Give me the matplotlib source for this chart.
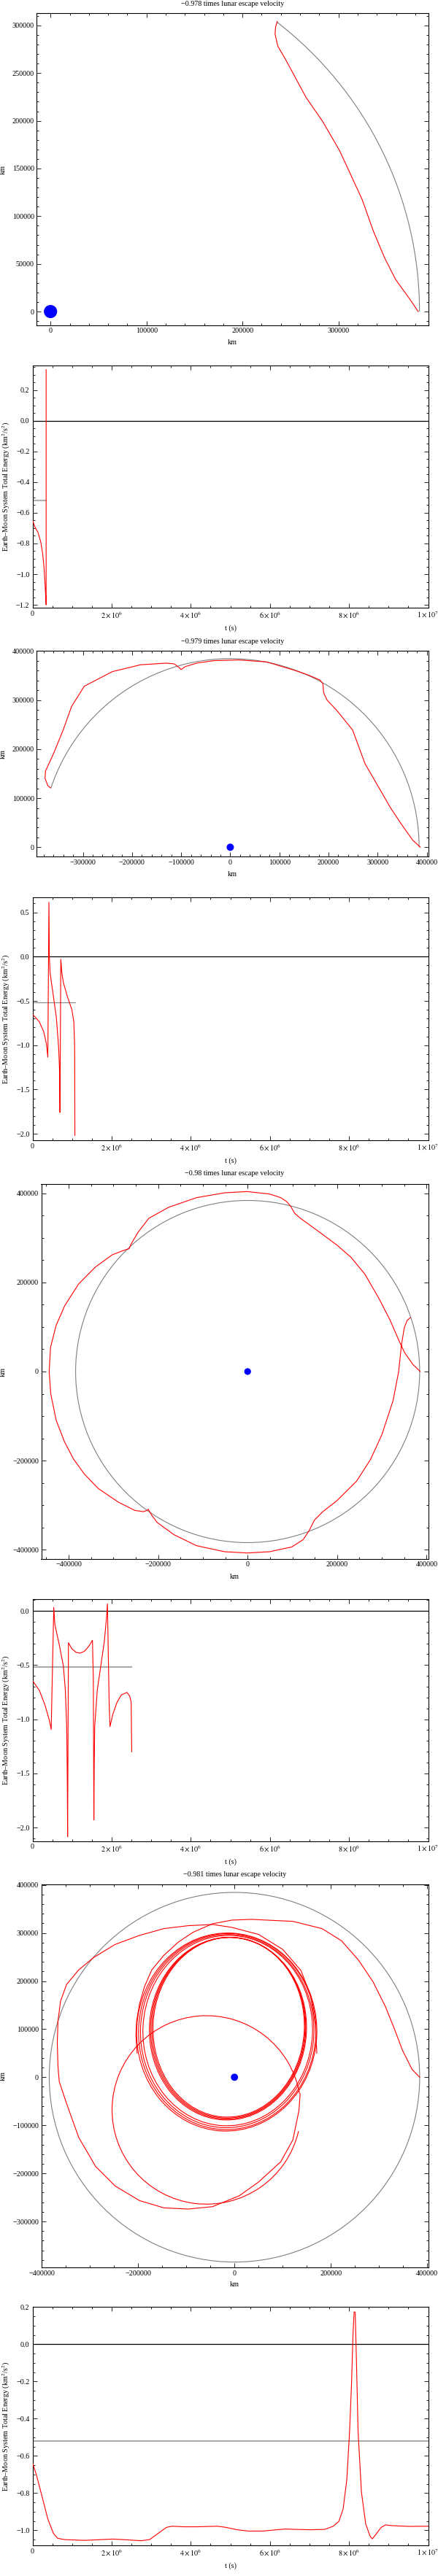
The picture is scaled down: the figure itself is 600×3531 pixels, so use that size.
import numpy as np
import matplotlib
matplotlib.use('Agg')
import matplotlib.pyplot as plt
from matplotlib.ticker import MultipleLocator, FuncFormatter
from matplotlib.patches import Arc, Ellipse

plt.rcParams['font.family'] = ['Liberation Serif', 'DejaVu Serif']
plt.rcParams['mathtext.fontset'] = 'stix'

# ---------------- data ----------------
titles = ["\u22120.978 times lunar escape velocity",
          "\u22120.979 times lunar escape velocity",
          "\u22120.98 times lunar escape velocity",
          "\u22120.981 times lunar escape velocity"]

moon_radius = 384400
earth_radius = 6371
moon_arc_end_deg = [52.2, 161.7, 360.0, 360.0]
energy_ref = -0.52

# orbit 1 (km)
o1_x = [383000, 374300, 359600, 348000, 336300, 324600, 312900, 301200, 283600,
        266100, 245600, 236800, 233900, 234500, 236300]
o1_y = [0, 13000, 33400, 56400, 84400, 117600, 143100, 168600, 199200,
        224700, 263000, 278300, 291100, 298700, 304300]

# orbit 2
o2_x = [386900, 371400, 348600, 325700, 302900, 274300, 249000, 217000, 197000,
        190000, 188600, 182900, 160000, 131400, 74300, 17100, -34300, -68600,
        -92000, -100000, -102900, -114300, -131400, -182900, -240000, -297100,
        -322900, -340000, -360000, -376000, -377100, -371400, -365700]
o2_y = [0, 14400, 46500, 81200, 120800, 170300, 239000, 278700, 300000,
        315000, 333200, 340600, 350500, 360400, 377700, 381700, 380200, 375200,
        368000, 361900, 365300, 373800, 375200, 371800, 357900, 328200,
        287100, 239300, 190100, 155400, 140600, 125700, 120800]

# orbit 3
o3_x = [385800, 368900, 350100, 337500, 318700, 293600, 262200, 230900, 199500,
        155600, 118000, 105400, 96000, 86600, 74000, 48900, -1300, -51400,
        -114200, -176900, -220800, -245900, -261600, -264700, -277300, -302400,
        -340000, -377700, -409000, -427900, -440400, -443500, -440000, -427900,
        -409000, -389000, -365100, -333800, -289800, -252200, -233400, -224000,
        -222100, -215000, -202000, -164400, -114200, -51400, -1300, 48900,
        99100, 124200, 136800, 149300, 168100, 199500, 243400, 274800, 299900,
        324970, 337500, 343800, 350100, 356400, 363900]
o3_y = [0, 16400, 43700, 71000, 114800, 163900, 218600, 256800, 284200,
        316900, 344300, 355200, 371600, 382500, 390700, 398900, 404400, 401600,
        390700, 368900, 344300, 311500, 284200, 276000, 272100, 262300,
        235000, 196700, 147500, 103800, 54600, 0, -50000, -109300,
        -158500, -196700, -230100, -262800, -292900, -312000, -314800, -312000,
        -309300, -322000, -339300, -366700, -391300, -404900, -407700, -404900,
        -394000, -377600, -358500, -333900, -314800, -290200, -246400, -197300, -142100,
        -65600, 0, 60100, 98400, 114800, 121300]

# orbit 4: departure arc into the loop bundle
o4a_x = [384400, 368700, 348500, 333300, 313100, 287900, 257600, 222200, 181800,
         121200, 35400, -5100, -45500, -85900, -116200, -146500, -171700,
         -186900, -197000, -203000, -204500, -202000]
o4a_y = [0, 16200, 56600, 97000, 147500, 198000, 243400, 283800, 309100,
         324200, 328300, 326800, 319200, 301500, 281300, 253500, 223200,
         187900, 152500, 117200, 86900, 50000]
# orbit 4: repeated loops (read as ellipses)
bundle_cx = [-16000, -15000, -15000, -14000, -13500, -13000, -12500, -12000]
bundle_cy = [94000, 95000, 96000, 97000, 101000, 102000, 103000, 104000]
bundle_rx = [187000, 184000, 180000, 176000, 163000, 161000, 159000, 157000]
bundle_ry = [206000, 204000, 201000, 198000, 190000, 189000, 188000, 187000]
bundle_tilt = [-3, -3, -3, -3, -3, -3, -3, -3]
# orbit 4: the wide loop after the lunar fly-by
o4b_x = [171000, 168000, 158000, 138000, 100000, 50000, -5100, -45500, -96000,
         -146500, -197000, -247500, -293000, -323200, -348500, -361100, -366200,
         -367700, -366200, -363600, -348500, -323200, -287900, -247500, -197000,
         -146500, -96000, -45500, 10100, 50000, 96000, 121200, 133800, 136400]
o4b_y = [50000, 110000, 170000, 222000, 266000, 297000, 311600, 317700, 315200,
         309100, 295000, 276300, 248500, 223200, 192900, 157600, 117200,
         71700, 21200, -9100, -54500, -125300, -185900, -226300, -256600,
         -271700, -274200, -269200, -246500, -218000, -176000, -130300, -69700, -34300]
# orbit 4: last, nearly circular loop (read as a circular arc)
last_loop_cx = -58000
last_loop_cy = -68000
last_loop_r = 196000
last_loop_theta = (10, 347)

# energies: time in units of 1e6 s, energy in km^2/s^2
e1_t = [0.0, 0.064, 0.136, 0.207, 0.257, 0.293, 0.314, 0.336, 0.343, 0.343]
e1_E = [-0.648, -0.695, -0.727, -0.79, -0.87, -0.965, -1.06, -1.156, -1.20, 0.333]

e2_t = [0.0, 0.08, 0.17, 0.28, 0.35, 0.386, 0.414, 0.425, 0.443, 0.53, 0.60,
        0.657, 0.680, 0.693, 0.714, 0.74, 0.779, 0.886, 0.993, 1.043, 1.064, 1.070]
e2_E = [-0.652, -0.69, -0.735, -0.845, -0.983, -1.135, 0.613, 0.0, -0.182, -0.459,
        -0.68, -1.01, -1.25, -1.76, -0.03, -0.18, -0.293, -0.459, -0.597, -0.735,
        -1.01, -2.02]

e3_t = [0.0, 0.171, 0.314, 0.421, 0.471, 0.536, 0.564, 0.671, 0.779, 0.829,
        0.864, 0.879, 0.886, 0.907, 0.993, 1.1, 1.207, 1.314, 1.421, 1.514,
        1.536, 1.550, 1.560, 1.571, 1.636, 1.743, 1.814, 1.871, 1.893, 1.914,
        1.936, 1.957, 2.029, 2.136, 2.243, 2.386, 2.457, 2.493, 2.507]
e3_E = [-0.644, -0.734, -0.869, -1.005, -1.095, 0.032, -0.126, -0.306, -0.509,
        -0.734, -1.072, -1.6, -2.085, -0.294, -0.35, -0.383, -0.39, -0.372,
        -0.327, -0.271, -0.619, -1.93, -1.4, -1.067, -0.731, -0.462, -0.283,
        -0.058, 0.065, -0.395, -0.843, -1.067, -0.955, -0.843, -0.776, -0.753,
        -0.787, -0.843, -1.30]

e4_t = [0.0, 0.1, 0.243, 0.386, 0.529, 0.636, 0.814, 1.314, 2.029, 2.386, 2.743,
        2.957, 3.171, 3.386, 3.529, 3.814, 4.171, 4.671, 4.886, 5.171, 5.457,
        5.814, 6.171, 6.386, 6.671, 7.029, 7.386, 7.6, 7.743, 7.85, 7.943, 8.014,
        8.064, 8.1, 8.129, 8.157, 8.186, 8.229, 8.314, 8.421, 8.529, 8.586,
        8.671, 8.814, 8.921, 9.1, 9.529, 10.0]
e4_E = [-0.638, -0.704, -0.821, -0.939, -1.017, -1.043, -1.050, -1.054, -1.047,
        -1.051, -1.056, -1.050, -1.017, -0.984, -0.978, -0.981, -0.981, -0.978,
        -0.984, -0.997, -1.004, -1.004, -0.997, -0.993, -0.995, -0.997, -0.995,
        -0.978, -0.952, -0.886, -0.73, -0.469, -0.208, 0.054, 0.174, 0.171,
        -0.077, -0.469, -0.795, -0.965, -1.03, -1.046, -1.024, -0.984, -0.971,
        -0.975, -0.979, -0.978]

# ---------------- layout ----------------
W, H = 600, 3531
fig = plt.figure(figsize=(W / 100, H / 100), dpi=100)
FS = 7.3
MINUS = "\u2212"
RED = "#ff0000"
GRAY = "#7f7f7f"


def add_ax(l, t, r, b):
    return fig.add_axes([l / W, 1 - b / H, (r - l) / W, (b - t) / H])


def ftext(x, y, s, **kw):
    fig.text(x / W, 1 - y / H, s, ha='center', va='center', fontsize=FS, **kw)


def fmt_int(v, pos):
    s = f"{v:.0f}"
    if s == "-0":
        s = "0"
    return s.replace("-", MINUS)


def fmt_1(v, pos):
    s = f"{v:.1f}"
    if s == "-0.0":
        s = "0.0"
    return s.replace("-", MINUS)


def fmt_t(v, pos):
    if v < 1:
        return "0" if abs(v) < 1 else ""
    e = int(np.floor(np.log10(v) + 1e-9))
    m = v / 10 ** e
    return rf"${m:.0f}\times10^{{{e}}}$"


def style(ax, xmaj, xmin, ymaj, ymin, xfmt, yfmt, ypad=2.5):
    ax.xaxis.set_major_locator(MultipleLocator(xmaj))
    ax.xaxis.set_minor_locator(MultipleLocator(xmin))
    ax.yaxis.set_major_locator(MultipleLocator(ymaj))
    ax.yaxis.set_minor_locator(MultipleLocator(ymin))
    ax.xaxis.set_major_formatter(FuncFormatter(xfmt))
    ax.yaxis.set_major_formatter(FuncFormatter(yfmt))
    ax.tick_params(which='both', direction='in', top=True, right=True,
                   labelsize=FS, width=0.6, colors='black')
    ax.tick_params(which='major', length=4.0)
    ax.tick_params(which='minor', length=2.0)
    ax.tick_params(axis='x', pad=2.5)
    ax.tick_params(axis='y', pad=ypad)
    for sp in ax.spines.values():
        sp.set_linewidth(0.8)


def orbit_panel(box, xlim, ylim, xt, yt, arc_end, title, title_y, xlab_y):
    ax = add_ax(*box)
    ax.set_xlim(*xlim)
    ax.set_ylim(*ylim)
    ax.add_patch(Arc((0, 0), 2 * moon_radius, 2 * moon_radius, theta1=0,
                     theta2=arc_end, color=GRAY, lw=0.8, zorder=2))
    ax.add_patch(Ellipse((0, 0), 2 * earth_radius, 2 * earth_radius,
                         color='#0000ff', zorder=5))
    style(ax, xt[0], xt[1], yt[0], yt[1], fmt_int, fmt_int)
    l, t, r, b = box
    cx = (l + r) / 2
    ftext(cx, title_y, title)
    ftext(cx, xlab_y, "km")
    ftext(4.6, (t + b) / 2, "km", rotation=90)
    return ax


def energy_panel(box, ylim, yt, t, E, ref_full, ref_color, ref_lw, xlab_y):
    ax = add_ax(*box)
    ax.set_xlim(0, 1e7)
    ax.set_ylim(*ylim)
    tt = np.array(t) * 1e6
    ax.axhline(0.0, color='black', lw=0.9, zorder=2)
    t_end = 1e7 if ref_full else tt[-1]
    ax.plot([0, t_end], [energy_ref, energy_ref], color=ref_color, lw=ref_lw, zorder=2)
    ax.plot(tt, E, color=RED, lw=0.8, zorder=3)
    style(ax, 2e6, 0.5e6, yt[0], yt[1], fmt_t, fmt_1, ypad=3.0)
    l, tp, r, b = box
    ftext((l + r) / 2, xlab_y, "t (s)")
    ftext(9, (tp + b) / 2, "Earth\u2013Moon System Total Energy (km$^2$/s$^2$)",
          rotation=90)
    return ax


# panel 1
ax1 = orbit_panel((50.4, 18.3, 586.5, 446), (-14300, 393400), (-14500, 312700),
                  (100000, 20000), (50000, 10000), moon_arc_end_deg[0],
                  titles[0], 5, 470)
ax1.plot(o1_x, o1_y, color=RED, lw=0.8, zorder=3)

# panel 2
energy_panel((44.6, 501, 586.5, 833.3), (-1.22, 0.36), (0.2, 0.05), e1_t, e1_E,
             False, '#b0b0b0', 1.6, 860.7)

# panel 3
ax3 = orbit_panel((50.4, 892.3, 586.5, 1174.3), (-393800, 402800), (-19300, 400000),
                  (100000, 20000), (100000, 20000), moon_arc_end_deg[1],
                  titles[1], 879, 1199)
ax3.plot(o2_x, o2_y, color=RED, lw=0.8, zorder=3)

# panel 4
energy_panel((44.6, 1230, 586.5, 1563.3), (-2.076, 0.67), (0.5, 0.1), e2_t, e2_E,
             False, '#808080', 0.8, 1590.7)

# panel 5
ax5 = orbit_panel((56.5, 1623.3, 586.5, 2136.7), (-461200, 403400), (-420800, 420800),
                  (200000, 50000), (200000, 50000), moon_arc_end_deg[2],
                  titles[2], 1608.7, 2161)
ax5.plot(o3_x, o3_y, color=RED, lw=0.8, zorder=3)

# panel 6
energy_panel((44.6, 2191.7, 586.5, 2524), (-2.127, 0.11), (0.5, 0.1), e3_t, e3_E,
             False, '#aaaaaa', 1.5, 2551.7)

# panel 7
ax7 = orbit_panel((56.5, 2583.3, 586.5, 3108.3), (-401000, 402000), (-396000, 400600),
                  (200000, 50000), (100000, 20000), moon_arc_end_deg[3],
                  titles[3], 2570, 3131.7)
ax7.plot(o4a_x, o4a_y, color=RED, lw=0.8, zorder=3)
for cx_, cy_, rx_, ry_, a_ in zip(bundle_cx, bundle_cy, bundle_rx, bundle_ry, bundle_tilt):
    ax7.add_patch(Ellipse((cx_, cy_), 2 * rx_, 2 * ry_, angle=a_, fill=False,
                          edgecolor=RED, lw=0.8, zorder=3))
ax7.plot(o4b_x, o4b_y, color=RED, lw=0.8, zorder=3)
ax7.add_patch(Arc((last_loop_cx, last_loop_cy), 2 * last_loop_r, 2 * last_loop_r,
                  theta1=last_loop_theta[0], theta2=last_loop_theta[1],
                  color=RED, lw=0.8, zorder=3))

# panel 8
energy_panel((44.6, 3162.3, 586.5, 3489.3), (-1.082, 0.2), (0.2, 0.05), e4_t, e4_E,
             True, '#999999', 1.2, 3516.7)

fig.savefig("out.png", dpi=100, facecolor='white')
